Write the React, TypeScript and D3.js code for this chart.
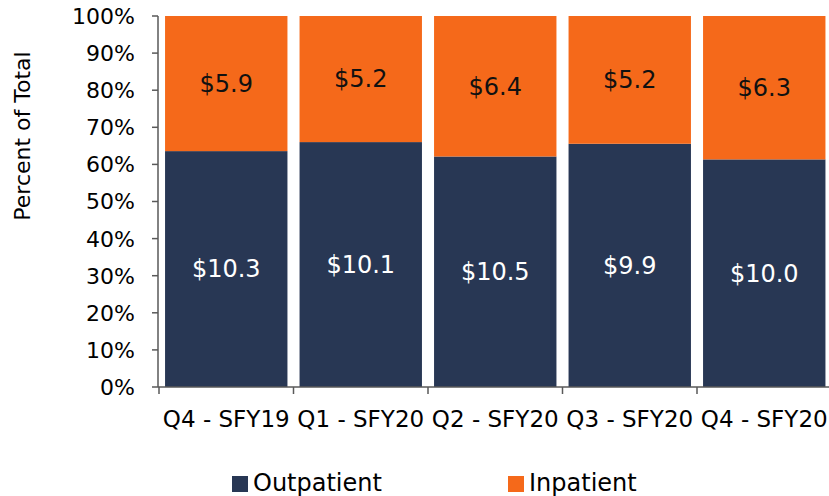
import React, { useEffect, useRef } from "react";
import * as d3 from "d3";

const quarters = ["Q4 - SFY19", "Q1 - SFY20", "Q2 - SFY20", "Q3 - SFY20", "Q4 - SFY20"];
const outpatient = [10.3, 10.1, 10.5, 9.9, 10.0];
const inpatient = [5.9, 5.2, 6.4, 5.2, 6.3];
const yTicks = [0, 0.1, 0.2, 0.3, 0.4, 0.5, 0.6, 0.7, 0.8, 0.9, 1.0];

const NAVY = "#283754";
const ORANGE = "#F5691A";
const FONT = "DejaVu Sans, sans-serif";

export default function App() {
  const svgRef = useRef<SVGSVGElement>(null);

  useEffect(() => {
    const width = 829;
    const height = 496;
    const svg = d3.select(svgRef.current).attr("width", width).attr("height", height);
    svg.selectAll("*").remove();

    const x = d3.scaleBand<string>().domain(quarters).range([159, 831.5]).paddingInner(0.09).paddingOuter(0.045);
    const y = d3.scaleLinear().domain([0, 1]).range([387, 16]);
    const step = x.step();

    const rows = quarters.map((q, i) => {
      const total = outpatient[i] + inpatient[i];
      return { q, out: outpatient[i], inp: inpatient[i], outShare: outpatient[i] / total };
    });

    // bars
    const g = svg.append("g");
    g.selectAll("rect.out")
      .data(rows)
      .join("rect")
      .attr("class", "out")
      .attr("x", (d) => x(d.q)!)
      .attr("width", x.bandwidth())
      .attr("y", (d) => y(d.outShare))
      .attr("height", (d) => y(0) - y(d.outShare))
      .attr("fill", NAVY);

    g.selectAll("rect.inp")
      .data(rows)
      .join("rect")
      .attr("class", "inp")
      .attr("x", (d) => x(d.q)!)
      .attr("width", x.bandwidth())
      .attr("y", y(1))
      .attr("height", (d) => y(d.outShare) - y(1))
      .attr("fill", ORANGE);

    // labels
    g.selectAll("text.outl")
      .data(rows)
      .join("text")
      .attr("class", "outl")
      .attr("x", (d) => x(d.q)! + x.bandwidth() / 2)
      .attr("y", (d) => (y(0) + y(d.outShare)) / 2)
      .attr("dy", "0.35em")
      .attr("text-anchor", "middle")
      .attr("fill", "#fff")
      .style("font", `24px ${FONT}`)
      .text((d) => `$${d.out.toFixed(1)}`);

    g.selectAll("text.inl")
      .data(rows)
      .join("text")
      .attr("class", "inl")
      .attr("x", (d) => x(d.q)! + x.bandwidth() / 2)
      .attr("y", (d) => (y(1) + y(d.outShare)) / 2)
      .attr("dy", "0.35em")
      .attr("text-anchor", "middle")
      .attr("fill", "#111")
      .style("font", `24px ${FONT}`)
      .text((d) => `$${d.inp.toFixed(1)}`);

    // y axis
    const axisColor = "#595959";
    svg.append("line").attr("x1", 158).attr("x2", 158).attr("y1", y(1)).attr("y2", y(0)).attr("stroke", axisColor).attr("stroke-width", 1.5);
    svg.selectAll("line.yt")
      .data(yTicks)
      .join("line")
      .attr("class", "yt")
      .attr("x1", 152)
      .attr("x2", 158)
      .attr("y1", (d) => y(d))
      .attr("y2", (d) => y(d))
      .attr("stroke", axisColor)
      .attr("stroke-width", 1.5);
    svg.selectAll("text.yl")
      .data(yTicks)
      .join("text")
      .attr("class", "yl")
      .attr("x", 135)
      .attr("y", (d) => y(d))
      .attr("dy", "0.36em")
      .attr("text-anchor", "end")
      .attr("fill", "#000")
      .style("font", `22px ${FONT}`)
      .text((d) => d3.format(".0%")(d));

    // x axis
    svg.append("line").attr("x1", 158).attr("x2", width).attr("y1", y(0)).attr("y2", y(0)).attr("stroke", axisColor).attr("stroke-width", 1.5);
    const bounds = quarters.map((q) => x(q)! - (step * x.paddingInner()) / 2);
    svg.selectAll("line.xt")
      .data(bounds)
      .join("line")
      .attr("class", "xt")
      .attr("x1", (d) => d)
      .attr("x2", (d) => d)
      .attr("y1", y(0))
      .attr("y2", y(0) + 7)
      .attr("stroke", axisColor)
      .attr("stroke-width", 1.5);
    svg.selectAll("text.xl")
      .data(quarters)
      .join("text")
      .attr("class", "xl")
      .attr("x", (d) => x(d)! + x.bandwidth() / 2)
      .attr("y", 427)
      .attr("text-anchor", "middle")
      .attr("fill", "#000")
      .style("font", `23px ${FONT}`)
      .text((d) => d);

    // y title
    svg.append("text")
      .attr("transform", "translate(30,136) rotate(-90)")
      .attr("text-anchor", "middle")
      .attr("fill", "#000")
      .style("font", `22px ${FONT}`)
      .text("Percent of Total");

    // legend
    const legend = [
      { name: "Outpatient", color: NAVY, x: 232 },
      { name: "Inpatient", color: ORANGE, x: 508 },
    ];
    const lg = svg.selectAll("g.lg").data(legend).join("g").attr("class", "lg");
    lg.append("rect").attr("x", (d) => d.x).attr("y", 476).attr("width", 16).attr("height", 16).attr("fill", (d) => d.color);
    lg.append("text")
      .attr("x", (d) => d.x + 21)
      .attr("y", 491)
      .attr("fill", "#000")
      .style("font", `24px ${FONT}`)
      .text((d) => d.name);
  }, []);

  return <svg ref={svgRef} style={{ position: "absolute", left: 0, top: 0, display: "block" }}></svg>;
}
